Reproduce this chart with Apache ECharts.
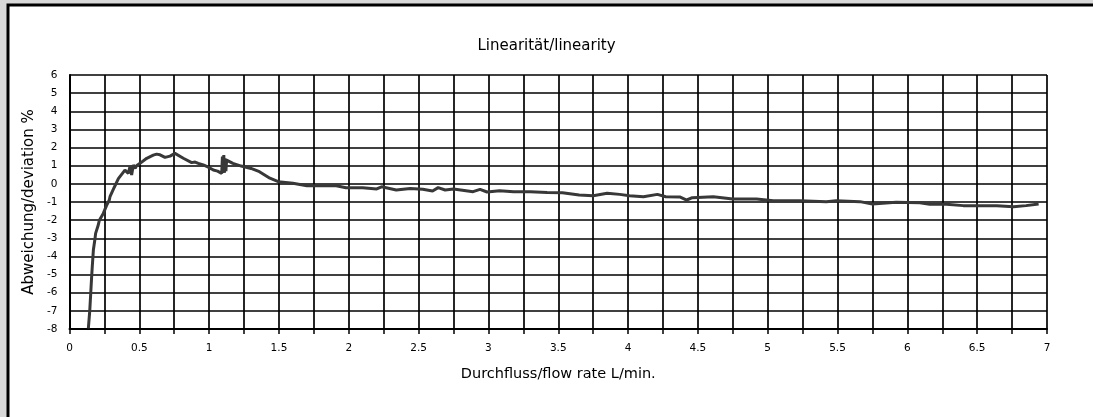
<!DOCTYPE html>
<html>
<head>
<meta charset="utf-8">
<script src="https://cdn.jsdelivr.net/npm/echarts@6/dist/echarts.min.js"></script>
<style>
html,body{margin:0;padding:0;background:#d9d9d9;}
#chart{width:1093px;height:417px;}
</style>
</head>
<body>
<div id="chart"></div>
<script>
var titleText = 'Linearität/linearity';
var xAxisName = 'Durchfluss/flow rate L/min.';
var yAxisName = 'Abweichung/deviation %';

var flowRate = [0.135,0.145,0.152,0.158,0.163,0.171,0.183,0.187,0.206,0.214,0.242,0.265,0.285,0.29,0.32,0.35,0.397,0.421,0.433,0.445,0.457,0.47,0.48,0.505,0.553,0.6,0.624,0.648,0.684,0.72,0.755,0.815,0.875,0.9,0.922,0.958,0.994,1.03,1.06,1.09,1.095,1.10,1.105,1.11,1.115,1.12,1.125,1.17,1.23,1.30,1.36,1.435,1.495,1.60,1.70,1.91,1.98,2.10,2.20,2.235,2.34,2.44,2.53,2.60,2.64,2.69,2.75,2.89,2.94,2.99,3.08,3.18,3.30,3.42,3.53,3.65,3.75,3.85,3.94,4.01,4.11,4.21,4.27,4.37,4.42,4.46,4.61,4.75,4.92,5.04,5.23,5.42,5.49,5.66,5.75,5.92,6.09,6.16,6.28,6.40,6.64,6.76,6.85,6.94];
var deviation = [-7.97,-7.0,-6.03,-5.2,-4.57,-3.65,-3.0,-2.73,-2.27,-2.0,-1.63,-1.2,-0.89,-0.71,-0.2,0.29,0.76,0.58,0.95,0.49,1.04,0.85,1.0,1.13,1.41,1.58,1.64,1.6,1.46,1.53,1.68,1.41,1.17,1.2,1.13,1.04,0.92,0.76,0.7,0.58,1.5,0.6,1.59,0.62,1.4,0.7,1.31,1.13,0.98,0.85,0.67,0.31,0.12,0.03,-0.10,-0.10,-0.21,-0.21,-0.28,-0.16,-0.34,-0.25,-0.30,-0.39,-0.21,-0.34,-0.28,-0.43,-0.30,-0.45,-0.38,-0.43,-0.43,-0.47,-0.49,-0.62,-0.65,-0.52,-0.58,-0.65,-0.71,-0.58,-0.71,-0.72,-0.89,-0.76,-0.71,-0.84,-0.84,-0.93,-0.93,-0.98,-0.93,-0.98,-1.11,-1.02,-1.04,-1.13,-1.13,-1.20,-1.20,-1.26,-1.20,-1.11];

var xMin = 0, xMax = 7, xStep = 0.25;
var yMin = -8, yMax = 6, yStep = 1;

var seriesData = flowRate.map(function (x, i) { return [x, deviation[i]]; });

var FONT = 'DejaVu Sans';
var chart = echarts.init(document.getElementById('chart'));
chart.setOption({
  animation: false,
  backgroundColor: '#d9d9d9',
  graphic: [{
    type: 'rect',
    z: -10,
    silent: true,
    shape: { x: 8, y: 5, width: 1100, height: 430 },
    style: { fill: '#ffffff', stroke: '#000000', lineWidth: 3 }
  }],
  title: {
    text: titleText,
    left: 'center',
    top: 34,
    textStyle: { fontFamily: FONT, fontSize: 15, fontWeight: 'normal', color: '#000' }
  },
  grid: { left: 69.5, right: 46, top: 75, bottom: 88, containLabel: false },
  xAxis: {
    type: 'value',
    min: xMin, max: xMax, interval: xStep,
    name: xAxisName,
    nameLocation: 'middle',
    nameGap: 38,
    nameTextStyle: { fontFamily: FONT, fontSize: 14.5, color: '#000' },
    axisLine: { show: true, onZero: false, lineStyle: { color: '#000', width: 2 } },
    axisTick: { show: true, length: 5, lineStyle: { color: '#000', width: 1.5 } },
    axisLabel: {
      margin: 14,
      fontFamily: FONT, fontSize: 10.5, color: '#000',
      formatter: function (v) {
        return Math.abs(v * 2 - Math.round(v * 2)) < 1e-6 ? String(v) : '';
      }
    },
    splitLine: { show: true, lineStyle: { color: '#000', width: 1.7 } }
  },
  yAxis: {
    type: 'value',
    min: yMin, max: yMax, interval: yStep,
    name: yAxisName,
    nameLocation: 'middle',
    nameGap: 30,
    nameTextStyle: { fontFamily: FONT, fontSize: 15, color: '#000' },
    axisLine: { show: true, onZero: false, lineStyle: { color: '#000', width: 2 } },
    axisTick: { show: false },
    axisLabel: { margin: 12, fontFamily: FONT, fontSize: 10.5, color: '#000' },
    splitLine: { show: true, lineStyle: { color: '#000', width: 1.7 } }
  },
  series: [{
    type: 'line',
    data: seriesData,
    showSymbol: false,
    symbol: 'none',
    smooth: false,
    clip: true,
    lineStyle: { color: '#383838', width: 3 },
    z: 5
  }]
});
</script>
</body>
</html>
